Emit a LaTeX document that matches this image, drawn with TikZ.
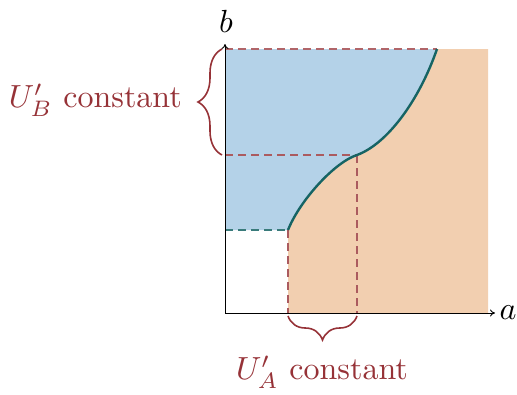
\documentclass[tikz,border=0pt]{standalone}
\usetikzlibrary{decorations.pathreplacing,arrows.meta}
\definecolor{fillblue}{RGB}{180,210,232}
\definecolor{fillorange}{RGB}{242,207,176}
\definecolor{curveteal}{RGB}{22,100,100}
\definecolor{labelred}{RGB}{150,50,55}
\newcommand{\bigtxt}[1]{\scalebox{3.2}{#1}}
\tikzset{
  axis/.style={line width=0.9pt,-{To[length=5pt,width=7pt]}},
  guide/.style={line width=1.1pt,dash pattern=on 8pt off 5pt},
  bracestyle/.style={labelred,line width=1.6pt,decorate,decoration={brace,amplitude=24pt}},
  lbl/.style={labelred,inner sep=0pt},
  axlbl/.style={inner sep=0pt}
}
\begin{document}
\begin{tikzpicture}[x=1pt,y=-1pt]
\useasboundingbox (0,0) rectangle (517,394);
\coordinate (O) at (225,313);
\coordinate (P0) at (288,230);
\coordinate (P1) at (357,155);
\coordinate (P2) at (437,49);
\coordinate (TL) at (225,49);
\coordinate (TR) at (488,49);
\coordinate (BR) at (488,313);
% blue region
\fill[fillblue] (TL) -- (P2) .. controls (419,101) and (387,144) .. (P1)
  .. controls (335,162) and (300,200) .. (P0) -- (225,230) -- cycle;
% orange region
\fill[fillorange] (288,313) -- (P0) .. controls (300,200) and (335,162) .. (P1)
  .. controls (387,144) and (419,101) .. (P2) -- (TR) -- (BR) -- cycle;
% guides
\draw[guide,labelred!75] (TL) -- (P2);
\draw[guide,labelred!80] (225,155) -- (P1);
\draw[guide,curveteal!85] (225,230) -- (P0);
\draw[guide,labelred!80] (P0) -- (288,313);
\draw[guide,labelred!80] (P1) -- (357,313);
% curve
\draw[curveteal,line width=2.4pt] (P0) .. controls (300,200) and (335,162) .. (P1)
  .. controls (387,144) and (419,101) .. (P2);
% axes
\coordinate (xend) at (495,313);
\coordinate (yend) at (225,44);
\draw[axis] (O) -- (xend);
\draw[axis] (O) -- (yend);
\node[axlbl] (alab) at (508,313) {\bigtxt{$a$}};
\node[axlbl] (blab) at (226,21) {\bigtxt{$b$}};
% braces
\draw[bracestyle] (222,155) -- (222,49);
\draw[bracestyle] (357,316) -- (288,316);
\node[lbl,anchor=east] (ublab) at (182,100) {\bigtxt{$U'_B$ constant}};
\node[lbl] (ualab) at (322,372) {\bigtxt{$U'_A$ constant}};
\end{tikzpicture}
\end{document}
